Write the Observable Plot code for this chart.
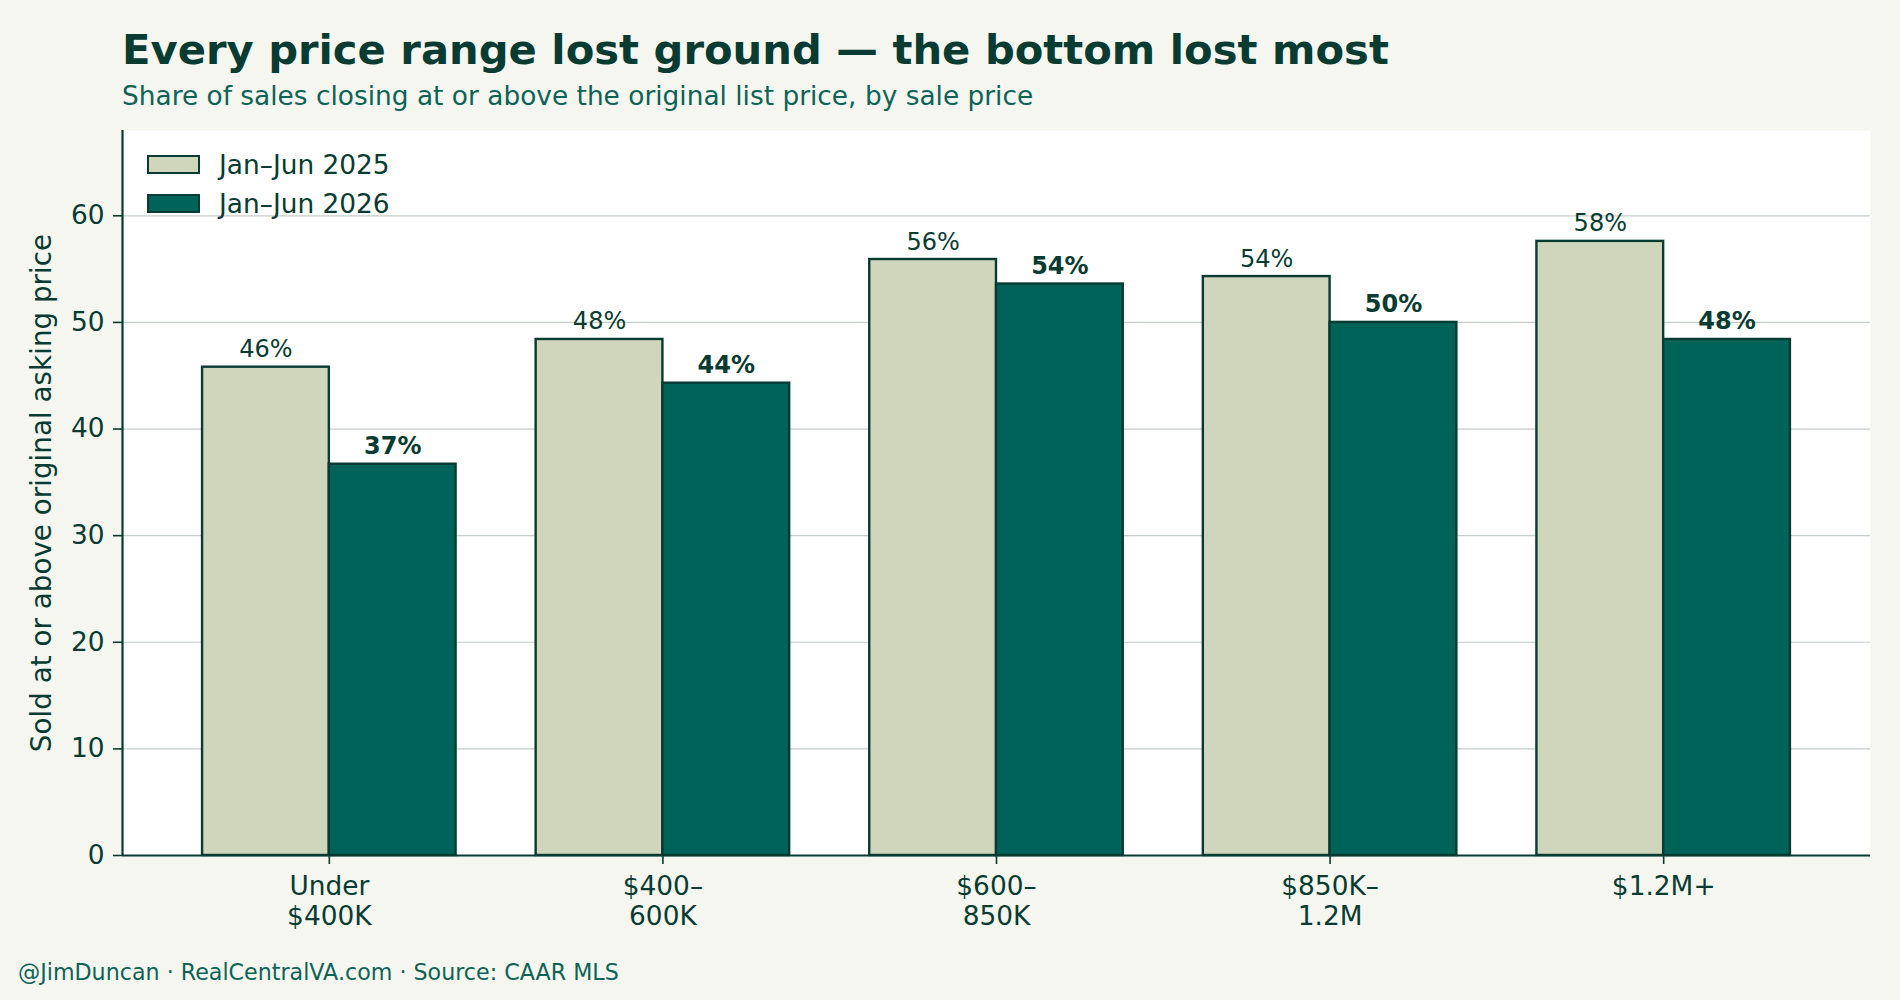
<!DOCTYPE html>
<html>
<head>
<meta charset="utf-8">
<script src="https://cdn.jsdelivr.net/npm/d3@7"></script>
<script src="https://cdn.jsdelivr.net/npm/@observablehq/plot@0.6"></script>
<style>
  html, body { margin: 0; padding: 0; }
  body { width: 1900px; height: 1000px; background: #f5f6f0; position: relative; overflow: hidden;
         font-family: "DejaVu Sans", sans-serif; color: #083b32; }
  .title { position: absolute; left: 122px; top: 28.5px; font-size: 41.7px; line-height: 1; font-weight: bold; color: #083b32; white-space: nowrap; }
  .subtitle { position: absolute; left: 122px; top: 82.7px; font-size: 26.4px; line-height: 1; color: #0e6357; white-space: nowrap; }
  .footer { position: absolute; left: 18px; top: 961px; font-size: 22.2px; line-height: 1; color: #0e6357; white-space: nowrap; }
  #chart { position: absolute; left: 0; top: 110px; }
  .legend { position: absolute; left: 147px; top: 145px; }
  .legend .row { display: flex; align-items: center; height: 39px; }
  .legend .sw { width: 49px; height: 15px; border: 2.2px solid #083b32; margin-right: 19px; }
  .legend .lab { font-size: 26.4px; color: #083b32; white-space: nowrap; }
</style>
</head>
<body>
<div class="title">Every price range lost ground — the bottom lost most</div>
<div class="subtitle">Share of sales closing at or above the original list price, by sale price</div>
<div id="chart"></div>
<div class="legend" id="legend"></div>
<div class="footer">@JimDuncan · RealCentralVA.com · Source: CAAR MLS</div>
<script>
// ---- data ----
const categories = ["Under\n$400K", "$400–\n600K", "$600–\n850K", "$850K–\n1.2M", "$1.2M+"];
const seriesNames = ["Jan–Jun 2025", "Jan–Jun 2026"];
const values2025 = [45.8, 48.4, 55.9, 54.3, 57.6];
const values2026 = [36.7, 44.3, 53.6, 50.0, 48.4];
const yTicks = [0, 10, 20, 30, 40, 50, 60];

// ---- styling ----
const dark = "#083b32";
const fill2025 = "#d0d6bb";
const fill2026 = "#00635a";
const gridColor = "#c5cec7";
const barWidth = 0.38;
const xDomain = [-0.62, categories.length - 1 + 0.62];
const yDomain = [0, 68];

const rows2025 = values2025.map((v, i) => ({i, v, cat: categories[i], series: seriesNames[0]}));
const rows2026 = values2026.map((v, i) => ({i, v, cat: categories[i], series: seriesNames[1]}));

const chart = Plot.plot({
  width: 1900,
  height: 835,
  marginTop: 20,
  marginLeft: 122,
  marginRight: 30,
  marginBottom: 90,
  style: {fontFamily: "DejaVu Sans", fontSize: "26.4px", color: dark, background: "transparent", overflow: "visible"},
  x: {type: "linear", domain: xDomain},
  y: {domain: yDomain},
  marks: [
    Plot.frame({fill: "white", stroke: null}),
    Plot.gridY(yTicks.filter(t => t > 0), {stroke: gridColor, strokeOpacity: 1, strokeWidth: 1.2}),
    Plot.rectY(rows2025, {x1: d => d.i - barWidth, x2: d => d.i, y: "v", fill: fill2025, stroke: dark, strokeWidth: 2.4}),
    Plot.rectY(rows2026, {x1: d => d.i, x2: d => d.i + barWidth, y: "v", fill: fill2026, stroke: dark, strokeWidth: 2.4}),
    Plot.text(rows2025, {x: d => d.i - barWidth / 2, y: "v", text: d => `${Math.round(d.v)}%`, lineAnchor: "bottom", dy: -10, fontSize: 24, fill: dark}),
    Plot.text(rows2026, {x: d => d.i + barWidth / 2, y: "v", text: d => `${Math.round(d.v)}%`, lineAnchor: "bottom", dy: -10, fontSize: 24, fontWeight: "bold", fill: dark}),
    Plot.ruleY([0], {stroke: dark, strokeWidth: 2.2}),
    Plot.ruleX([xDomain[0]], {y1: yDomain[0], y2: yDomain[1], stroke: dark, strokeWidth: 2.2}),
    Plot.axisY(yTicks, {tickSize: 9, tickPadding: 9, stroke: dark, strokeWidth: 1.6, fill: dark, fontSize: 26.4,
      label: "Sold at or above original asking price", labelAnchor: "center", labelArrow: "none", labelOffset: 91}),
    Plot.axisX(categories.map((c, i) => i), {tickFormat: i => categories[i], tickSize: 9, tickPadding: 9, stroke: dark, strokeWidth: 1.6, fill: dark,
      fontSize: 26.4, lineHeight: 1.15, label: null})
  ]
});
document.getElementById("chart").appendChild(chart);
// y-axis label font size
chart.querySelectorAll("text").forEach(t => {
  if (t.textContent === "Sold at or above original asking price") t.style.fontSize = "27.8px";
});

// legend
const legend = document.getElementById("legend");
[[seriesNames[0], fill2025], [seriesNames[1], fill2026]].forEach(([name, color]) => {
  const row = document.createElement("div");
  row.className = "row";
  const sw = document.createElement("div");
  sw.className = "sw";
  sw.style.background = color;
  const lab = document.createElement("div");
  lab.className = "lab";
  lab.textContent = name;
  row.appendChild(sw);
  row.appendChild(lab);
  legend.appendChild(row);
});
</script>
</body>
</html>
